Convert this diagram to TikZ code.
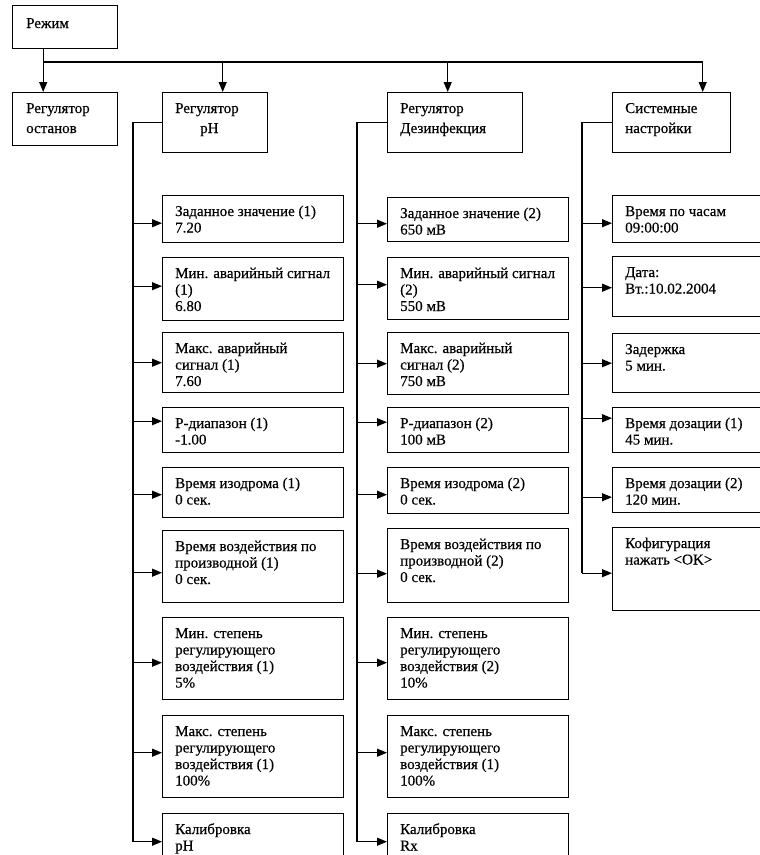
\documentclass[tikz,border=0pt]{standalone}
\usepackage{fontspec}
\setmainfont[FakeBold=0.4]{Liberation Serif}
\usetikzlibrary{arrows.meta}
\newcommand{\mybt}[1]{\parbox[t]{200pt}{\raggedright\fontsize{15}{16.5}\selectfont #1}}
\newcommand{\myhdt}[1]{\parbox[t]{110pt}{\raggedright\fontsize{15}{20}\selectfont #1}}
\newcommand{\mybx}[6]{%
 \node[box, minimum width=#4pt, minimum height=#5pt] (#1) at (#2,#3) {};
 \node[txt] (#1t) at ([shift={(13,21)}]#1.north west) {\mybt{#6}};}
\newcommand{\myar}[3]{%
 \coordinate (#2a) at ([yshift=#3pt]#2.west);
 \draw[arr] (#1 |- #2a) -- (#2a);}
\begin{document}
\begin{tikzpicture}[x=1pt,y=-1pt,
 box/.style={draw, line width=1.4pt, inner sep=0pt, anchor=north west},
 txt/.style={inner sep=0pt, anchor=base west},
 ln/.style={line width=1.2pt},
 arr/.style={line width=1.2pt, -{Triangle[length=10pt,width=8pt]}}]
\clip (0,0) rectangle (760,855);
% top level
\node[box, minimum width=105pt, minimum height=43pt] (rez) at (12,5) {};
\node[txt] (rezt) at ([shift={(14,23)}]rez.north west) {\myhdt{Режим}};
\node[box, minimum width=105pt, minimum height=53pt] (ost) at (12,92) {};
\node[txt] (ostt) at ([shift={(14,21)}]ost.north west) {\myhdt{Регулятор\\останов}};
\node[box, minimum width=105pt, minimum height=60pt] (ph) at (162,92) {};
\node[txt] (pht) at ([shift={(13,21)}]ph.north west) {\myhdt{Регулятор\\\hspace*{25pt}pH}};
\node[box, minimum width=135pt, minimum height=60pt] (dz) at (387,92) {};
\node[txt] (dzt) at ([shift={(13,21)}]dz.north west) {\myhdt{Регулятор\\Дезинфекция}};
\node[box, minimum width=118pt, minimum height=60pt] (sy) at (612,92) {};
\node[txt] (syt) at ([shift={(13,21)}]sy.north west) {\myhdt{Системные\\настройки}};
% top connectors
\coordinate (bus) at (0,62);
\coordinate (d0) at ([xshift=-22pt]rez.south);
\coordinate (d0b) at ([xshift=-22pt]ost.north);
\coordinate (d1) at ([xshift=7.5pt]ph.north);
\coordinate (d2) at ([xshift=-7.5pt]dz.north);
\coordinate (d3) at ([xshift=31pt]sy.north);
\draw[arr] (d0) -- (d0b);
\draw[ln] (d0 |- bus) -- (d3 |- bus);
\draw[arr] (d1 |- bus) -- (d1);
\draw[arr] (d2 |- bus) -- (d2);
\draw[arr] (d3 |- bus) -- (d3);
% pH column
\mybx{p1}{162}{195}{181}{47}{Заданное значение (1)\\7.20}
\mybx{p2}{162}{257}{181}{63}{Мин. аварийный сигнал\\(1)\\6.80}
\mybx{p3}{162}{332}{181}{60}{Макс. аварийный\\сигнал (1)\\7.60}
\mybx{p4}{162}{407}{181}{45}{P-диапазон (1)\\-1.00}
\mybx{p5}{162}{467}{181}{50}{Время изодрома (1)\\0 сек.}
\mybx{p6}{162}{530}{181}{72}{Время воздействия по\\производной (1)\\0 сек.}
\mybx{p7}{162}{617}{181}{82}{Мин. степень\\регулирующего\\воздействия (1)\\5\%}
\mybx{p8}{162}{715}{181}{82}{Макс. степень\\регулирующего\\воздействия (1)\\100\%}
\mybx{p9}{162}{813}{181}{60}{Калибровка\\pH}
\coordinate (tph) at (133,0);
\myar{tph}{p1}{-4}
\myar{tph}{p2}{3}
\myar{tph}{p3}{0}
\myar{tph}{p4}{9}
\myar{tph}{p5}{-2}
\myar{tph}{p6}{-6}
\myar{tph}{p7}{-4}
\myar{tph}{p8}{4}
\myar{tph}{p9}{2}
\draw[ln] (ph.west) -- (tph |- ph.west) -- (tph |- p9a);
% disinfection column
\mybx{q1}{387}{197}{181}{44}{Заданное значение (2)\\650 мВ}
\mybx{q2}{387}{257}{181}{62}{Мин. аварийный сигнал\\(2)\\550 мВ}
\mybx{q3}{387}{332}{181}{62}{Макс. аварийный\\сигнал (2)\\750 мВ}
\mybx{q4}{387}{407}{181}{45}{P-диапазон (2)\\100 мВ}
\mybx{q5}{387}{467}{181}{46}{Время изодрома (2)\\0 сек.}
\mybx{q6}{387}{528}{181}{74}{Время воздействия по\\производной (2)\\0 сек.}
\mybx{q7}{387}{617}{181}{82}{Мин. степень\\регулирующего\\воздействия (2)\\10\%}
\mybx{q8}{387}{715}{181}{82}{Макс. степень\\регулирующего\\воздействия (1)\\100\%}
\mybx{q9}{387}{813}{181}{60}{Калибровка\\Rx}
\coordinate (tdz) at (357,0);
\myar{tdz}{q1}{-4}
\myar{tdz}{q2}{4}
\myar{tdz}{q3}{0}
\myar{tdz}{q4}{8}
\myar{tdz}{q5}{-4}
\myar{tdz}{q6}{-8}
\myar{tdz}{q7}{-4}
\myar{tdz}{q8}{4}
\myar{tdz}{q9}{2}
\draw[ln] (dz.west) -- (tdz |- dz.west) -- (tdz |- q9a);
% system column
\mybx{s1}{612}{195}{160}{47}{Время по часам\\09:00:00}
\mybx{s2}{612}{256}{160}{60}{Дата:\\Вт.:10.02.2004}
\mybx{s3}{612}{333}{160}{59}{Задержка\\5 мин.}
\mybx{s4}{612}{407}{160}{45}{Время дозации (1)\\45 мин.}
\mybx{s5}{612}{467}{160}{45}{Время дозации (2)\\120 мин.}
\mybx{s6}{612}{527}{160}{83}{Кофигурация\\нажать <OK>}
\coordinate (tsy) at (582,0);
\myar{tsy}{s1}{-4}
\myar{tsy}{s2}{-1}
\myar{tsy}{s3}{0}
\myar{tsy}{s4}{12}
\myar{tsy}{s5}{-7}
\myar{tsy}{s6}{-4}
\draw[ln] (sy.west) -- (tsy |- sy.west) -- (tsy |- s6a);
\end{tikzpicture}
\end{document}
